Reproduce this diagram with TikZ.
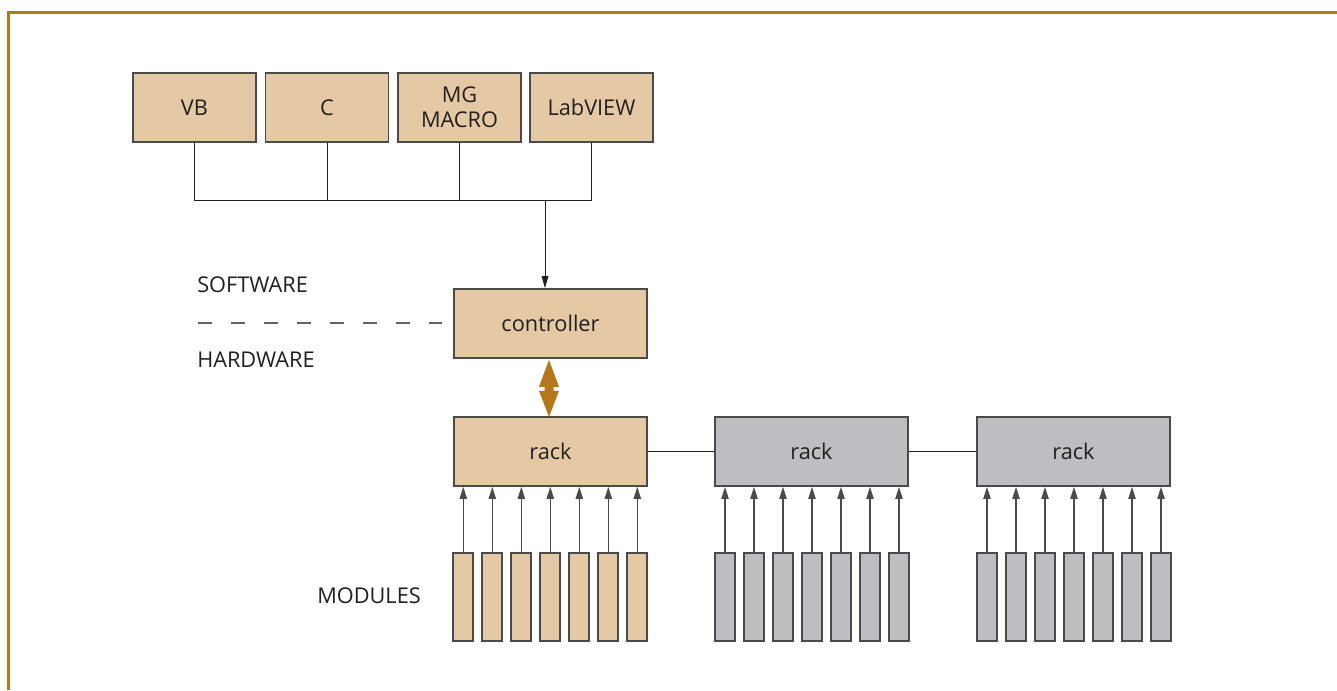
\documentclass[tikz,border=0pt]{standalone}
\usepackage{fontspec}
\setmainfont{Open Sans}
\usetikzlibrary{arrows.meta}
\definecolor{tan}{HTML}{E5C9A5}
\definecolor{grayfill}{HTML}{BDBEC2}
\definecolor{edge}{HTML}{4A4A4A}
\definecolor{gold}{HTML}{B5771A}
\definecolor{ink}{HTML}{231F20}
\begin{document}
\begin{tikzpicture}[x=0.75pt,y=-0.75pt,
  every node/.style={font=\fontsize{16.3pt}{19pt}\selectfont, text=ink},
  box/.style={draw=edge, line width=1.3pt, fill=tan, minimum width=92.25pt, minimum height=51.75pt, inner sep=0pt, align=center},
  bigbox/.style={draw=edge, line width=1.3pt, fill=tan, minimum width=144.75pt, minimum height=51.75pt, inner sep=0pt},
  graybox/.style={bigbox, fill=grayfill},
  modt/.style={draw=edge, line width=1.3pt, fill=tan, minimum width=15pt, minimum height=66pt, inner sep=0pt},
  modg/.style={modt, fill=grayfill},
  wire/.style={draw=ink, line width=0.75pt},
  modarrow/.style={draw=edge, line width=0.9pt, -{Triangle[length=9pt,width=5.5pt]}},
  label/.style={anchor=west, inner sep=0pt}
]
\useasboundingbox (0,0) rectangle (1337,690);
\draw[gold, line width=1.6pt] (8.5,690) -- (8.5,12.5) -- (1337,12.5);

% software boxes
\node[box] (vb) at (194.5,107.5) {VB};
\node[box] (c) at (327,107.5) {C};
\node[box, font=\fontsize{16.3pt}{18.5pt}\selectfont] (mg) at (459.5,107.5) {MG\\MACRO};
\node[box] (lv) at (591.5,107.5) {LabVIEW};

\coordinate (busL) at (194.5,200);
\coordinate (busR) at (591.5,200);
\coordinate (bus) at (545,200);
\draw[wire] (vb.south) -- (busL) -- (busR) -- (lv.south);
\draw[wire] (c.south) -- (c.south |- bus);
\draw[wire] (mg.south) -- (mg.south |- bus);

% controller
\node[bigbox] (ctrl) at (550.5,323.5) {controller};
\draw[wire, -{Triangle[length=9pt,width=5pt]}] (bus) -- (bus |- ctrl.north);

% software / hardware
\node[label] (sw) at (197,285) {SOFTWARE};
\node[label] (hw) at (197,360) {HARDWARE};
\coordinate (dl) at (198,323);
\draw[draw=ink!70, line width=0.8pt, dash pattern=on 10.5pt off 14.25pt, shorten >=8.25pt] (dl) -- (dl -| ctrl.west);

% racks
\node[bigbox] (r1) at (550.5,451.5) {rack};
\node[graybox] (r2) at (811.5,451.5) {rack};
\node[graybox] (r3) at (1073.5,451.5) {rack};
\draw[wire] (r1.east) -- (r2.west);
\draw[wire] (r2.east) -- (r3.west);

% double arrow controller <-> rack
\fill[gold] ([shift={(-1.5,1)}]ctrl.south) -- ++(10,27) -- ++(-5.5,0) -- ++(0,4) -- ++(5.5,0)
  -- ++(-10,26) -- ++(-10,-26) -- ++(5.5,0) -- ++(0,-4) -- ++(-5.5,0) -- cycle;

% modules
\node[label] (modlab) at (317,596) {MODULES};
\foreach \i in {0,...,6} {
  \node[modt] (ma\i) at (463.3+29*\i,597) {};
  \draw[modarrow] (ma\i.north) -- (ma\i.north |- r1.south);
  \node[modg] (mb\i) at (725+29*\i,597) {};
  \draw[modarrow] (mb\i.north) -- (mb\i.north |- r2.south);
  \node[modg] (mc\i) at (987+29*\i,597) {};
  \draw[modarrow] (mc\i.north) -- (mc\i.north |- r3.south);
}
\end{tikzpicture}
\end{document}
